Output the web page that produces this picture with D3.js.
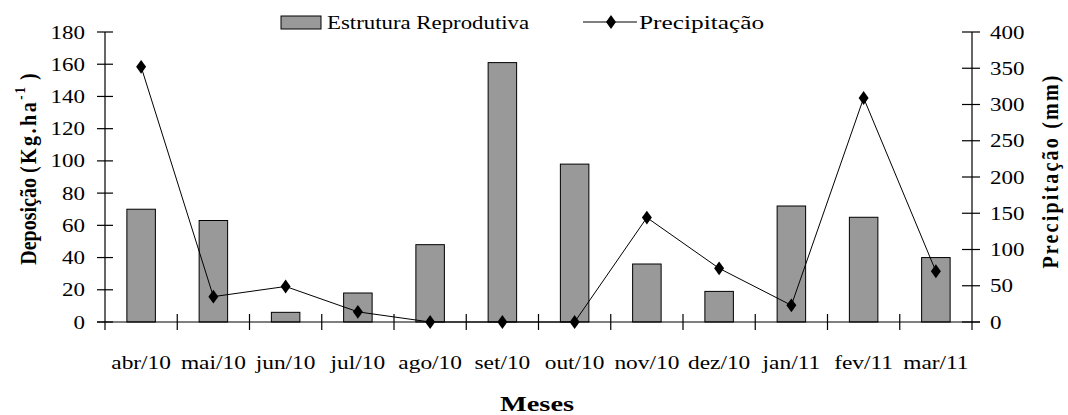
<!DOCTYPE html>
<html>
<head>
<meta charset="utf-8">
<script src="https://cdn.jsdelivr.net/npm/d3@7"></script>
<style>
  html, body { margin: 0; padding: 0; background: #fff; }
  svg { display: block; font-family: "Liberation Serif", "Times New Roman", serif; }
</style>
</head>
<body>
<svg id="chart" width="1068" height="415"></svg>
<script>
const months = ["abr/10","mai/10","jun/10","jul/10","ago/10","set/10","out/10","nov/10","dez/10","jan/11","fev/11","mar/11"];
const deposicao = [70, 63, 6, 18, 48, 161, 98, 36, 19, 72, 65, 40];
const precipitacao = [352, 35, 49, 14, 0, 0, 0, 144, 74, 23, 309, 70];
const leftTicks = [0,20,40,60,80,100,120,140,160,180];
const rightTicks = [0,50,100,150,200,250,300,350,400];
const seriesNames = ["Estrutura Reprodutiva", "Precipitação"];

const svg = d3.select("#chart");
const X0 = 105, X1 = 972, Y0 = 322, Y1 = 32;
const SX = 1.22, FS = 19.5;

const x = d3.scaleBand().domain(months).range([X0, X1]).paddingInner(0).paddingOuter(0);
const yL = d3.scaleLinear().domain([0, 180]).range([Y0, Y1]);
const yR = d3.scaleLinear().domain([0, 400]).range([Y0, Y1]);

function label(g, tx, ty, txt, anchor, opts = {}) {
  return g.append("text")
    .attr("transform", `translate(${tx},${ty}) scale(${opts.sx || SX},1)`)
    .attr("text-anchor", anchor)
    .attr("font-size", opts.fs || FS)
    .attr("font-weight", opts.bold ? "bold" : "normal")
    .attr("fill", "#000")
    .text(txt);
}

// Bars
const barW = 28.5;
svg.append("g").selectAll("rect").data(deposicao).join("rect")
  .attr("x", (d, i) => x(months[i]) + x.bandwidth() / 2 - barW / 2)
  .attr("y", d => yL(d))
  .attr("width", barW)
  .attr("height", d => yL(0) - yL(d))
  .attr("fill", "#999999")
  .attr("stroke", "#000")
  .attr("stroke-width", 1);

// Axes lines
const axes = svg.append("g").attr("stroke", "#000").attr("stroke-width", 1.2);
axes.append("line").attr("x1", X0).attr("x2", X0).attr("y1", Y1).attr("y2", Y0 + 8);
axes.append("line").attr("x1", X1).attr("x2", X1).attr("y1", Y1).attr("y2", Y0 + 8);
axes.append("line").attr("x1", X0 - 8).attr("x2", X1 + 8).attr("y1", Y0).attr("y2", Y0);

axes.selectAll(".lt").data(leftTicks).join("line")
  .attr("x1", X0 - 8).attr("x2", X0 + 8)
  .attr("y1", d => yL(d)).attr("y2", d => yL(d));
axes.selectAll(".rt").data(rightTicks).join("line")
  .attr("x1", X1 - 10).attr("x2", X1 + 8)
  .attr("y1", d => yR(d)).attr("y2", d => yR(d));
const bounds = months.slice(1).map(m => x(m));
axes.selectAll(".xt").data(bounds).join("line")
  .attr("x1", d => d).attr("x2", d => d)
  .attr("y1", Y0 - 8).attr("y2", Y0 + 8);

// Tick labels
const tl = svg.append("g");
leftTicks.forEach(v => label(tl, 85, yL(v) + 6.5, String(v), "end", { sx: 1.18 }));
rightTicks.forEach(v => label(tl, 990, yR(v) + 6.5, String(v), "start", { sx: 1.18 }));
months.forEach(m => label(tl, x(m) + x.bandwidth() / 2, 369, m, "middle", { sx: 1.2 }));

// Line
const line = d3.line()
  .x((d, i) => x(months[i]) + x.bandwidth() / 2)
  .y(d => yR(d));
svg.append("path").datum(precipitacao)
  .attr("d", line)
  .attr("fill", "none")
  .attr("stroke", "#000")
  .attr("stroke-width", 1);
const diamond = d3.symbol().type(d3.symbolDiamond).size(55);
svg.append("g").selectAll("path").data(precipitacao).join("path")
  .attr("d", diamond)
  .attr("transform", (d, i) => `translate(${x(months[i]) + x.bandwidth() / 2},${yR(d)}) scale(1.25,1)`)
  .attr("fill", "#000");

// Axis titles
label(svg, 537, 411, "Meses", "middle", { bold: true, fs: 20, sx: 1.42 });

const lt = svg.append("text")
  .attr("transform", "translate(36,169) rotate(-90) scale(1,1.2)")
  .attr("text-anchor", "middle")
  .attr("font-size", 20)
  .attr("font-weight", "bold");
lt.append("tspan").text("Deposição ");
lt.append("tspan").attr("letter-spacing", 2.5).text("(Kg.ha");
lt.append("tspan").attr("font-size", 13).attr("dy", -9).attr("letter-spacing", 2).text("-1");
lt.append("tspan").attr("dy", 9).attr("dx", 5).text(")");

svg.append("text")
  .attr("transform", "translate(1058,171) rotate(-90) scale(1,1.2)")
  .attr("text-anchor", "middle")
  .attr("font-size", 20)
  .attr("font-weight", "bold")
  .attr("letter-spacing", 2.2)
  .text("Precipitação (mm)");

// Legend
const lg = svg.append("g");
lg.append("rect").attr("x", 281).attr("y", 16).attr("width", 40).attr("height", 13)
  .attr("fill", "#999999").attr("stroke", "#000").attr("stroke-width", 1);
label(lg, 327, 29, seriesNames[0], "start", { sx: 1.17 });
lg.append("line").attr("x1", 583).attr("x2", 637).attr("y1", 22).attr("y2", 22)
  .attr("stroke", "#000").attr("stroke-width", 1.2);
lg.append("path").attr("d", diamond).attr("transform", "translate(611,22) scale(1.25,1)").attr("fill", "#000");
label(lg, 639, 29, seriesNames[1], "start", { sx: 1.3 });
</script>
</body>
</html>
